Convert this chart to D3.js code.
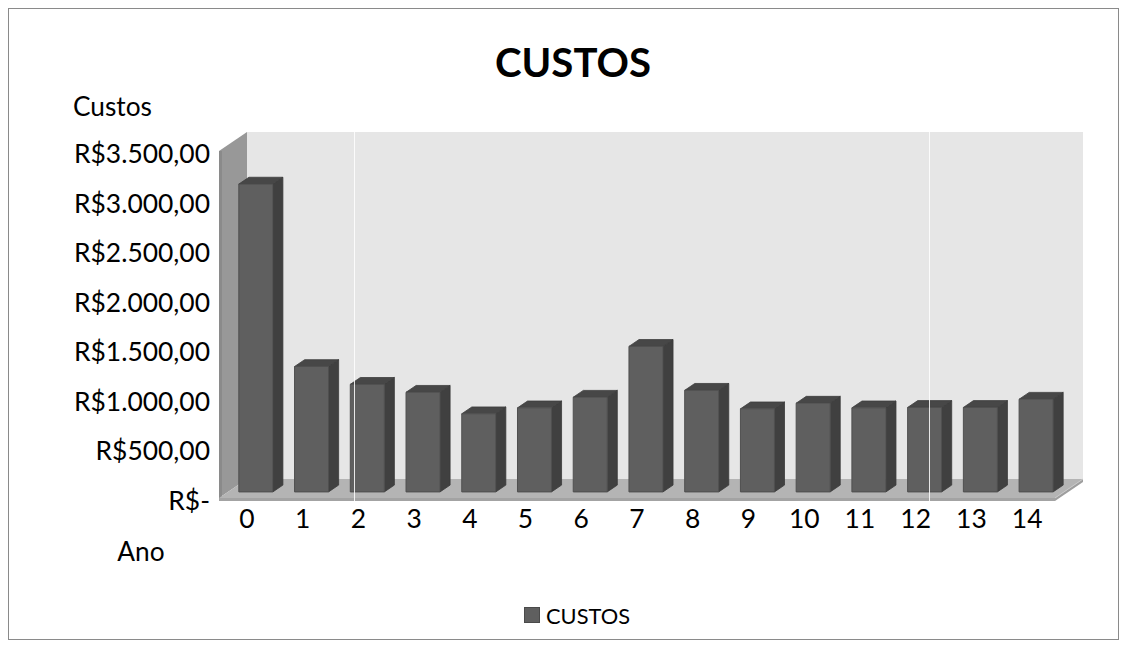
<!DOCTYPE html>
<html>
<head>
<meta charset="utf-8">
<script src="https://cdn.jsdelivr.net/npm/d3@7/dist/d3.min.js"></script>
<style>
  html, body { margin: 0; padding: 0; background: #ffffff; }
  svg { display: block; }
  text { font-family: Lato, "Open Sans", sans-serif; fill: #000; }
</style>
</head>
<body>
<svg id="chart" width="1127" height="648"></svg>
<script>
// ---- data ----
const categories = ["0","1","2","3","4","5","6","7","8","9","10","11","12","13","14"];
const custos = [3105, 1265, 1085, 1005, 788, 848, 955, 1468, 1025, 838, 895, 848, 852, 852, 935];
const valueTicks = [0, 500, 1000, 1500, 2000, 2500, 3000, 3500];
const chartTitle = "CUSTOS";
const yAxisTitle = "Custos";
const xAxisTitle = "Ano";
const seriesName = "CUSTOS";

// ---- setup ----
const svg = d3.select("#chart");

const ptBR = d3.formatLocale({ decimal: ",", thousands: ".", grouping: [3], currency: ["R$", ""] });
const money = ptBR.format("$,.2f");
const fmt = v => v === 0 ? "R$-" : money(v);

// 3D oblique projection
const DX = 28, DY = 19;
const x = d3.scaleBand().domain(categories).range([219, 1055]);
const y = d3.scaleLinear().domain([0, 3500]).range([498, 151]);
const P = (xf, v, d) => [xf + DX * d, y(v) - DY * d];
const poly = pts => "M" + pts.map(p => p.join(",")).join("L") + "Z";

// chart border
svg.append("rect").attr("x", 8.5).attr("y", 8.5).attr("width", 1110).attr("height", 631)
  .attr("fill", "#fff").attr("stroke", "#8a8a8a").attr("stroke-width", 1);

const x0 = x.range()[0], x1 = x.range()[1];
const vMax = 3500;
const g = svg.append("g");

// back wall
g.append("path").attr("d", poly([P(x0, 0, 1), P(x1, 0, 1), P(x1, vMax, 1), P(x0, vMax, 1)]))
  .attr("fill", "#e6e6e6");

// side wall (left)
g.append("path").attr("d", poly([P(x0, 0, 0), P(x0, 0, 1), P(x0, vMax, 1), P(x0, vMax, 0)]))
  .attr("fill", "#989898");
g.append("path").attr("d", poly([P(x0, vMax, 0), [x0 + 3, y(vMax)], [x0 + 3, y(0) + 3], [x0, y(0) + 3]]))
  .attr("fill", "#8a8a8a");

// floor
g.append("path").attr("d", poly([P(x0, 0, 0), P(x1, 0, 0), P(x1, 0, 1), P(x0, 0, 1)]))
  .attr("fill", "#b4b4b4");
g.append("path").attr("d", poly([P(x0, 0, 0), P(x1, 0, 0), [x1, y(0) + 3], [x0, y(0) + 3]]))
  .attr("fill", "#a3a3a3");
g.append("path").attr("d", poly([P(x1, 0, 0), P(x1, 0, 1), [x1 + DX, y(0) - DY + 3], [x1, y(0) + 3]]))
  .attr("fill", "#9e9e9e");
g.append("path").attr("d", "M" + P(x1, 0, 0).join(",") + "L" + P(x1, 0, 1).join(","))
  .attr("stroke", "#c8c8c8").attr("stroke-width", 1).attr("fill", "none");

// bars
const barW = x.bandwidth() * 0.61;
const d0 = 0.32, d1 = 0.68;
const bars = g.selectAll("g.bar").data(categories.map((c, i) => ({ c, v: custos[i] })))
  .enter().append("g").attr("class", "bar");

bars.each(function (d) {
  const gb = d3.select(this);
  const cx = x(d.c) + x.bandwidth() / 2;
  const L = cx - barW / 2, R = cx + barW / 2;
  gb.append("path").attr("d", poly([P(R, 0, d0), P(R, 0, d1), P(R, d.v, d1), P(R, d.v, d0)]))
    .attr("fill", "#404040").attr("stroke", "#3a3a3a").attr("stroke-width", 0.8);
  gb.append("path").attr("d", poly([P(L, d.v, d0), P(R, d.v, d0), P(R, d.v, d1), P(L, d.v, d1)]))
    .attr("fill", "#474747").attr("stroke", "#3e3e3e").attr("stroke-width", 0.8);
  gb.append("path").attr("d", poly([P(L, 0, d0), P(R, 0, d0), P(R, d.v, d0), P(L, d.v, d0)]))
    .attr("fill", "#5f5f5f").attr("stroke", "#4f4f4f").attr("stroke-width", 1);
});

// thin white vertical artifacts
[354, 929].forEach(xx => {
  svg.append("line").attr("x1", xx + 0.5).attr("x2", xx + 0.5)
    .attr("y1", y(vMax) - DY).attr("y2", y(0) + 3)
    .attr("stroke", "#ffffff").attr("stroke-width", 1).attr("opacity", 0.85);
});

// ---- text ----
function fitSize(str, weight, target) {
  const t = svg.append("text").attr("font-size", 100).attr("font-weight", weight).text(str);
  const w = t.node().getComputedTextLength();
  t.remove();
  return 100 * target / w;
}
const valueSize = fitSize("R$3.500,00", 400, 136);
const bodySize = fitSize("Custos", 400, 79);
const legendSize = fitSize(seriesName, 400, 84);
const titleSize = fitSize(chartTitle, 700, 156);

// title
svg.append("text").attr("x", 573).attr("y", 77).attr("text-anchor", "middle")
  .attr("font-size", titleSize).attr("font-weight", 700).text(chartTitle);

// value axis labels
svg.append("g").selectAll("text").data(valueTicks).enter().append("text")
  .attr("x", 210).attr("y", v => y(v) + 2)
  .attr("text-anchor", "end").attr("dominant-baseline", "central")
  .attr("font-size", valueSize).text(fmt);

// y axis title
svg.append("text").attr("x", 73).attr("y", 106).attr("dominant-baseline", "central")
  .attr("font-size", bodySize).text(yAxisTitle);

// category labels
svg.append("g").selectAll("text").data(categories).enter().append("text")
  .attr("x", c => x(c) + x.bandwidth() / 2).attr("y", 518)
  .attr("text-anchor", "middle").attr("dominant-baseline", "central")
  .attr("font-size", valueSize).text(c => c);

// x axis title
svg.append("text").attr("x", 141).attr("y", 551).attr("text-anchor", "middle")
  .attr("dominant-baseline", "central").attr("font-size", bodySize).text(xAxisTitle);

// legend
const lg = svg.append("g");
lg.append("rect").attr("x", 524.5).attr("y", 607.5).attr("width", 15).attr("height", 15)
  .attr("fill", "#5f5f5f").attr("stroke", "#4a4a4a");
lg.append("text").attr("x", 546).attr("y", 615).attr("dominant-baseline", "central")
  .attr("font-size", legendSize).text(seriesName);
</script>
</body>
</html>
